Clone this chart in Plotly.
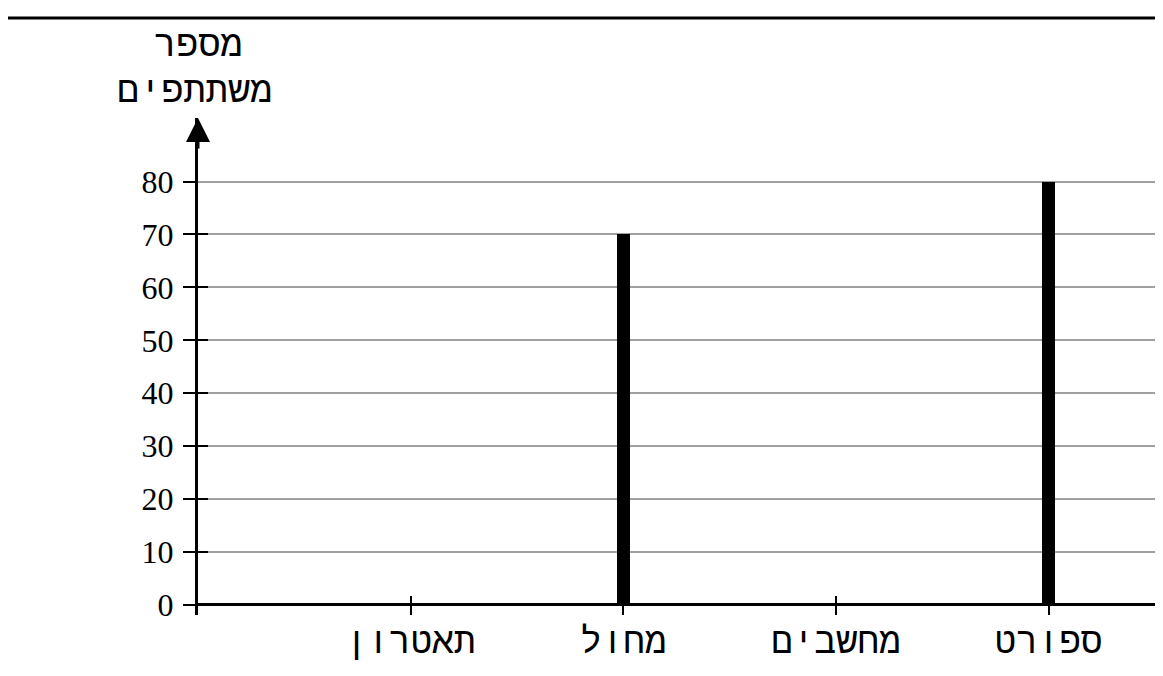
import plotly.graph_objects as go

# נתונים
categories = ["תאטרון", "מחול", "מחשבים", "ספורט"]
participants = [0, 70, 0, 80]
y_ticks = [0, 10, 20, 30, 40, 50, 60, 70, 80]
y_title_lines = ["מספר", "משתתפים"]

NUM_FONT = "Liberation Serif, DejaVu Serif"
HEB_FONT = "Liberation Mono, DejaVu Sans Mono, DejaVu Sans"

# הדף מוסיף שוליים של 8px, לכן הגרף קטן ב-16px
W, H = 1147, 660
L, R, T, B = 190, 0, 110, 53
PW, PH = W - L - R, H - T - B

fig = go.Figure()

fig.add_trace(go.Bar(
    x=categories, y=participants,
    width=0.06,
    marker=dict(color="black", line=dict(width=0)),
    showlegend=False,
))

# ציר y משני רק בשביל שנתות שחוצות את הציר
fig.add_trace(go.Scatter(x=[], y=[], yaxis="y2", showlegend=False))

fig.update_layout(
    width=W, height=H,
    margin=dict(l=L, r=R, t=T, b=B, autoexpand=False),
    plot_bgcolor="white", paper_bgcolor="white",
    font=dict(family=NUM_FONT, size=32, color="black"),
    bargap=0,
    xaxis=dict(
        type="category",
        range=[-1, 3.5],
        showgrid=False, showline=False, zeroline=False,
        ticks="inside", ticklen=19, tickwidth=2, tickcolor="black",
        tickfont=dict(family=HEB_FONT, size=36),
        ticklabelstandoff=1,
    ),
    yaxis=dict(
        range=[-1.9, 92],
        tickvals=y_ticks,
        showgrid=True, gridcolor="#a0a0a0", gridwidth=2,
        showline=True, linecolor="black", linewidth=3,
        zeroline=True, zerolinecolor="black", zerolinewidth=3,
        ticks="outside", ticklen=12, tickwidth=2, tickcolor="black",
        tickfont=dict(family=NUM_FONT, size=32),
        ticklabelstandoff=3,
    ),
    yaxis2=dict(
        overlaying="y", range=[-1.9, 92],
        tickvals=y_ticks[:-1],
        showgrid=False, showline=False, zeroline=False,
        showticklabels=False,
        ticks="inside", ticklen=10, tickwidth=2, tickcolor="black",
    ),
)

# ראש חץ בקצה ציר y
fig.add_annotation(
    x=0, y=1, xref="paper", yref="paper",
    ax=0, ay=32, axref="pixel", ayref="pixel",
    text="", showarrow=True,
    arrowhead=2, arrowsize=1.6, arrowwidth=3, arrowcolor="black",
)

# כותרת ציר y
fig.add_annotation(x=0, y=1.0 + 72 / PH, xref="paper", yref="paper",
                   text=y_title_lines[0], showarrow=False,
                   font=dict(family=HEB_FONT, size=37), xanchor="center", yanchor="middle")
fig.add_annotation(x=-0.004, y=1.0 + 26 / PH, xref="paper", yref="paper",
                   text=y_title_lines[1], showarrow=False,
                   font=dict(family=HEB_FONT, size=37), xanchor="center", yanchor="middle")

# קו עליון לרוחב הדף
fig.add_shape(type="line", xref="paper", yref="paper",
              x0=-L / PW, x1=1 + 20 / PW, y0=1 + 100 / PH, y1=1 + 100 / PH,
              line=dict(color="black", width=3))

fig.write_html("out.html")
